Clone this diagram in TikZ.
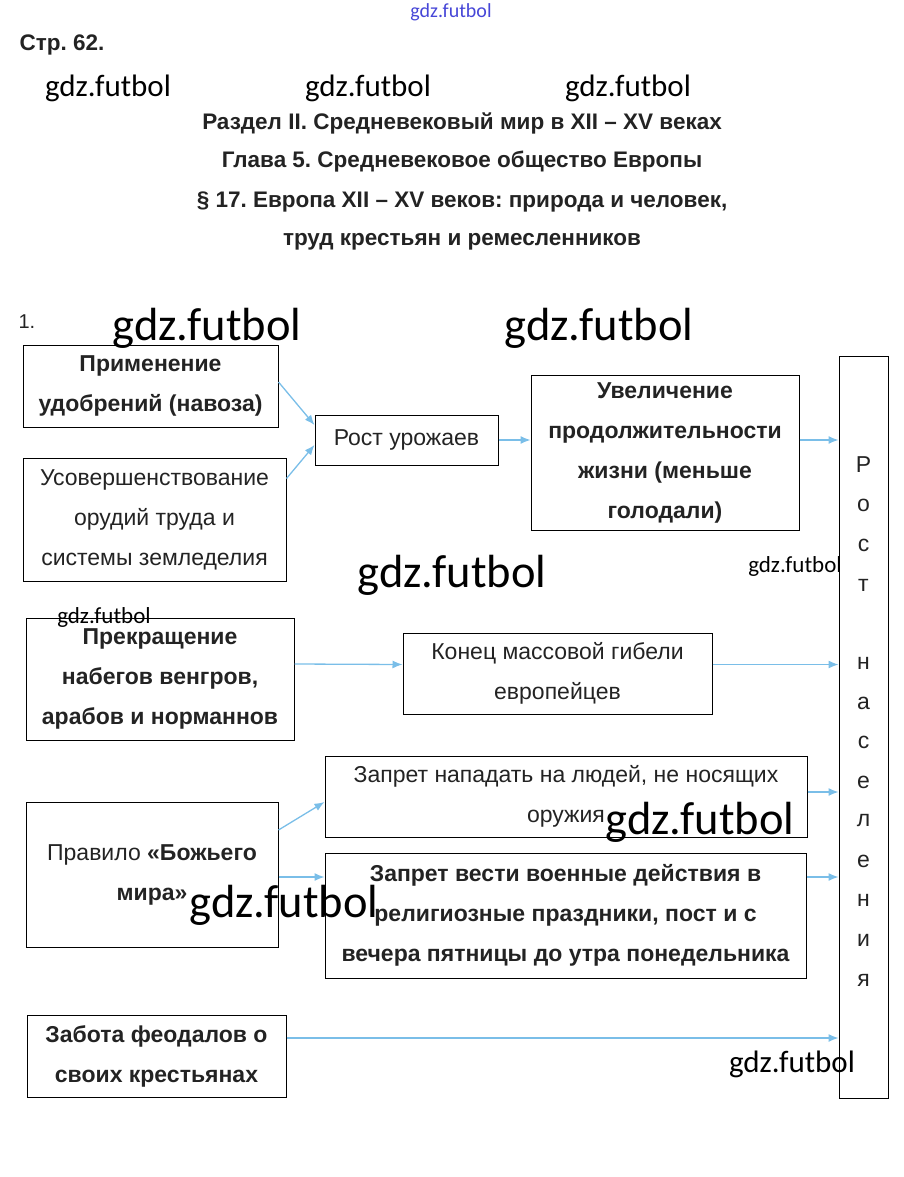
\documentclass[tikz,border=0pt]{standalone}
\usepackage{fontspec}
\setmainfont{Liberation Sans}
\newfontfamily\wmfont{Carlito}
\usetikzlibrary{arrows.meta}
\definecolor{arrowblue}{RGB}{122,190,232}
\definecolor{ink}{RGB}{35,35,35}
\definecolor{wmblue}{RGB}{70,70,215}
\frenchspacing

\begin{document}
\begin{tikzpicture}[x=1pt,y=-1pt,
		box/.style={draw,line width=1pt,align=center,inner sep=0pt,text=ink,font=\fontsize{23}{40}\selectfont},
		bbox/.style={box,font=\bfseries\fontsize{23}{40}\selectfont},
		arr/.style={-{Latex[length=10pt,width=8pt]},draw=arrowblue,line width=1.3pt},
		head/.style={text=ink,font=\bfseries\fontsize{22.5}{24}\selectfont},
		wmark/.style={inner sep=0pt,font=\wmfont\fontsize{#1}{#1}\selectfont}
		]
		\useasboundingbox (0,0) rectangle (903,1177);
		
		% header
		\node[wmark=20,text=wmblue] (wm0) at (451,12) {gdz.futbol};
		\node[head,anchor=west] (page) at (16,45) {Стр. 62.};
		\node[head] (t1) at (462,123) {Раздел II. Средневековый мир в XII – XV веках};
		\node[head] (t2) at (462,162) {Глава 5. Средневековое общество Европы};
		\node[head] (t3) at (462,202) {§ 17. Европа XII – XV веков: природа и человек,};
		\node[head] (t4) at (462,242) {труд крестьян и ремесленников};
		\node[text=ink,font=\fontsize{20}{20}\selectfont,anchor=west] (num) at (15,322) {1.};
		
		% boxes
		\node[bbox,minimum width=255,minimum height=82] (fert) at (150.5,386) {Применение\\удобрений (навоза)};
		\node[box,minimum width=263,minimum height=123] (tools) at (154.5,519.5) {Усовершенствование\\орудий труда и\\системы земледелия};
		\node[box,minimum width=183,minimum height=50] (crop) at (406.5,440) {Рост урожаев};
		\node[bbox,minimum width=268,minimum height=155] (life) at (665,452.5) {Увеличение\\продолжительности\\жизни (меньше\\голодали)};
		\node[draw,line width=1pt,minimum width=49,minimum height=742] (pop) at (863.5,727) {};
		\foreach \c/\y in {Р/465,о/505,с/545,т/585,н/663,а/703,с/742,е/782,л/821,е/861,н/900,и/940,я/980}
			\node[text=ink,font=\fontsize{23}{24}\selectfont] at (863.5,\y) {\c};
		\node[bbox,minimum width=268,minimum height=122] (raids) at (160,679) {Прекращение\\набегов венгров,\\арабов и норманнов};
		\node[box,minimum width=309,minimum height=81] (death) at (557.5,673.5) {Конец массовой гибели\\европейцев};
		\node[box,minimum width=252,minimum height=145] (peace) at (152,874.5) {Правило {\bfseries «Божьего}\\{\bfseries мира»}};
		\node[box,minimum width=482,minimum height=81] (ban1) at (566,796.5) {Запрет нападать на людей, не носящих\\оружия};
		\node[bbox,minimum width=481,minimum height=125] (ban2) at (565.5,915.5) {Запрет вести военные действия в\\религиозные праздники, пост и с\\вечера пятницы до утра понедельника};
		\node[bbox,minimum width=259,minimum height=82] (care) at (156.5,1056) {Забота феодалов о\\своих крестьянах};
		
		% arrows
		\draw[arr] ([yshift=4]fert.east) -- ([yshift=15]crop.west);
		\draw[arr] ([yshift=41]tools.east) -- ([yshift=-5]crop.west);
		\draw[arr] (crop.east) -- (crop.east -| life.west);
		\draw[arr] (crop.east -| life.east) -- (crop.east -| pop.west);
		\draw[arr] ([yshift=15]raids.east) -- ([yshift=9]death.west);
		\coordinate (d) at ([yshift=9]death.east);
		\draw[arr] (d) -- (d -| pop.west);
		\draw[arr] ([yshift=44.5]peace.east) -- ([yshift=-5.5]ban1.west);
		\draw[arr] ([yshift=-2.5]peace.east) -- ([yshift=38.5]ban2.west);
		\coordinate (e) at ([yshift=4.5]ban1.east);
		\draw[arr] (e) -- (e -| pop.west);
		\coordinate (f) at ([yshift=38.5]ban2.east);
		\draw[arr] (f) -- (f -| pop.west);
		\coordinate (g) at ([yshift=18]care.east);
		\draw[arr] (g) -- (g -| pop.west);
		
		% watermarks
		\node[wmark=31] (wm1) at (108,88) {gdz.futbol};
		\node[wmark=31] (wm2) at (368,88) {gdz.futbol};
		\node[wmark=31] (wm3) at (628,88) {gdz.futbol};
		\node[wmark=46.5] (wm4) at (207,328) {gdz.futbol};
		\node[wmark=46.5] (wm5) at (599,328) {gdz.futbol};
		\node[wmark=46.5] (wm6) at (452,575) {gdz.futbol};
		\node[wmark=23] (wm7) at (795,566) {gdz.futbol};
		\node[wmark=23] (wm8) at (104,617) {gdz.futbol};
		\node[wmark=46.5] (wm9) at (700,822) {gdz.futbol};
		\node[wmark=46.5] (wm10) at (284,905) {gdz.futbol};
		\node[wmark=31] (wm11) at (792,1064) {gdz.futbol};
	\end{tikzpicture}
\end{document}
